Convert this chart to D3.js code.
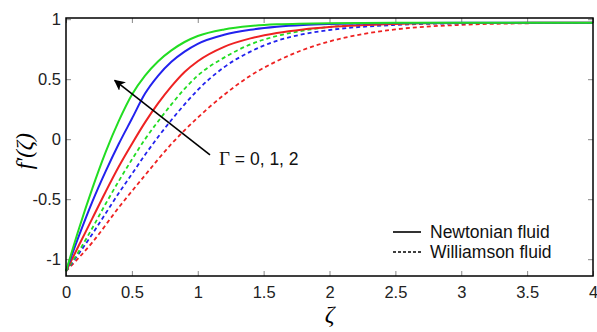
<!DOCTYPE html>
<html>
<head>
<meta charset="utf-8">
<script src="https://cdn.jsdelivr.net/npm/d3@7"></script>
<style>
  body { margin: 0; background: #fff; }
  svg { display: block; }
  .tick text { font-family: "Liberation Sans", Arial, sans-serif; font-size: 16.5px; fill: #222; }
</style>
</head>
<body>
<svg id="chart" width="597" height="332"></svg>
<script>
// ---- Data ----
const xTicks = [0, 0.5, 1, 1.5, 2, 2.5, 3, 3.5, 4];
const xTickLabels = ["0", "0.5", "1", "1.5", "2", "2.5", "3", "3.5", "4"];
const yTicks = [-1, -0.5, 0, 0.5, 1];
const yTickLabels = ["-1", "-0.5", "0", "0.5", "1"];

const gammaValues = [0, 1, 2];
const seriesColors = ["#ee2222", "#2222ee", "#22dd22"];

// Newtonian fluid (solid), one row per Γ
const newtonianZeta = [
  [0, 0.1, 0.2, 0.3, 0.4, 0.5, 0.6, 0.7, 0.8, 0.9, 1.0, 1.2, 1.4, 1.6, 1.8, 2.0, 2.5, 3, 4],
  [0, 0.1, 0.2, 0.3, 0.4, 0.5, 0.6, 0.7, 0.8, 0.9, 1.0, 1.2, 1.4, 1.6, 1.8, 2.0, 2.5, 3, 4],
  [0, 0.1, 0.2, 0.3, 0.4, 0.5, 0.6, 0.7, 0.8, 0.9, 1.0, 1.2, 1.4, 1.6, 2.0, 2.5, 4]
];
const newtonianF = [
  [-1.1, -0.88, -0.66, -0.44, -0.23, -0.04, 0.14, 0.3, 0.44, 0.56, 0.65, 0.77, 0.84, 0.885, 0.915, 0.935, 0.96, 0.968, 0.97],
  [-1.1, -0.8, -0.52, -0.27, -0.04, 0.17, 0.38, 0.53, 0.645, 0.73, 0.795, 0.87, 0.912, 0.937, 0.952, 0.96, 0.968, 0.97, 0.97],
  [-1.1, -0.74, -0.41, -0.11, 0.15, 0.37, 0.53, 0.65, 0.74, 0.81, 0.86, 0.915, 0.943, 0.957, 0.967, 0.97, 0.97]
];

// Williamson fluid (dashed), one row per Γ
const williamsonZeta = [
  [0, 0.2, 0.4, 0.6, 0.8, 1.0, 1.2, 1.4, 1.6, 1.8, 2.0, 2.25, 2.5, 3, 3.5, 4],
  [0, 0.1, 0.2, 0.3, 0.4, 0.5, 0.6, 0.7, 0.8, 0.9, 1.0, 1.2, 1.4, 1.6, 1.8, 2.0, 2.5, 3, 3.5, 4],
  [0, 0.1, 0.2, 0.3, 0.4, 0.5, 0.6, 0.7, 0.8, 0.9, 1.0, 1.2, 1.4, 1.6, 1.8, 2.0, 2.5, 3, 4]
];
const williamsonF = [
  [-1.1, -0.86, -0.57, -0.3, -0.04, 0.18, 0.37, 0.53, 0.65, 0.745, 0.815, 0.875, 0.915, 0.953, 0.966, 0.97],
  [-1.1, -0.95, -0.79, -0.62, -0.45, -0.29, -0.13, 0.02, 0.16, 0.29, 0.41, 0.6, 0.73, 0.82, 0.875, 0.91, 0.952, 0.966, 0.97, 0.97],
  [-1.1, -0.93, -0.74, -0.54, -0.35, -0.17, 0.0, 0.15, 0.29, 0.42, 0.53, 0.68, 0.79, 0.86, 0.905, 0.935, 0.96, 0.968, 0.97]
];

const legendLabels = ["Newtonian fluid", "Williamson fluid"];
const annotationText = ["Γ", " = 0, 1, 2"];
const xLabel = "ζ";
const yLabel = "f′(ζ)";

// ---- Layout ----
const svg = d3.select("#chart");
const mLeft = 66, mRight = 593, mTop = 18, mBottom = 276;
const x = d3.scaleLinear().domain([0, 4]).range([mLeft, mRight]);
const y = d3.scaleLinear().domain([-1.14, 1.01]).range([mBottom, mTop]);

const tickStroke = "#888";

// axes with inward ticks on all four sides
const gx = svg.append("g").attr("transform", `translate(0,${mBottom})`)
  .call(d3.axisBottom(x).tickValues(xTicks).tickFormat((d, i) => xTickLabels[i]).tickSize(-5).tickPadding(7));
const gxTop = svg.append("g").attr("transform", `translate(0,${mTop})`)
  .call(d3.axisTop(x).tickValues(xTicks).tickFormat("").tickSize(-5));
const gy = svg.append("g").attr("transform", `translate(${mLeft},0)`)
  .call(d3.axisLeft(y).tickValues(yTicks).tickFormat((d, i) => yTickLabels[i]).tickSize(-5).tickPadding(5));
const gyR = svg.append("g").attr("transform", `translate(${mRight},0)`)
  .call(d3.axisRight(y).tickValues(yTicks).tickFormat("").tickSize(-5));

[gx, gxTop, gy, gyR].forEach(g => {
  g.select(".domain").remove();
  g.selectAll(".tick line").attr("stroke", tickStroke).attr("stroke-width", 1);
});
gx.selectAll(".tick text").attr("dy", "0.9em");

// curves
const line = d3.line().x(d => x(d[0])).y(d => y(d[1])).curve(d3.curveMonotoneX);
const plot = svg.append("g");

gammaValues.forEach((g, i) => {
  const pts = williamsonZeta[i].map((z, k) => [z, williamsonF[i][k]]);
  plot.append("path").datum(pts).attr("d", line)
    .attr("fill", "none").attr("stroke", seriesColors[i]).attr("stroke-width", 1.8)
    .attr("stroke-dasharray", "4,3");
});
gammaValues.forEach((g, i) => {
  const pts = newtonianZeta[i].map((z, k) => [z, newtonianF[i][k]]);
  plot.append("path").datum(pts).attr("d", line)
    .attr("fill", "none").attr("stroke", seriesColors[i]).attr("stroke-width", 2);
});

// frame
svg.append("rect").attr("x", mLeft).attr("y", mTop)
  .attr("width", mRight - mLeft).attr("height", mBottom - mTop)
  .attr("fill", "none").attr("stroke", "#000").attr("stroke-width", 1.5);

// arrow annotation (data coordinates)
const arrowFrom = [1.093, -0.13];
const arrowTo = [0.37, 0.49];
svg.append("defs").append("marker")
  .attr("id", "ah").attr("viewBox", "0 0 10 10").attr("refX", 9).attr("refY", 5)
  .attr("markerWidth", 11).attr("markerHeight", 11).attr("markerUnits", "userSpaceOnUse")
  .attr("orient", "auto")
  .append("path").attr("d", "M0,0 L10,5 L0,10 L2.5,5 Z").attr("fill", "#000");
svg.append("line")
  .attr("x1", x(arrowFrom[0])).attr("y1", y(arrowFrom[1]))
  .attr("x2", x(arrowTo[0])).attr("y2", y(arrowTo[1]))
  .attr("stroke", "#000").attr("stroke-width", 1.6).attr("marker-end", "url(#ah)");

const ann = svg.append("text").attr("x", x(arrowFrom[0]) + 9).attr("y", y(arrowFrom[1]) + 10)
  .attr("font-size", 17.5).attr("fill", "#111");
ann.append("tspan").attr("font-family", "'Liberation Serif', 'Times New Roman', serif").attr("font-size", 19).text(annotationText[0]);
ann.append("tspan").attr("font-family", "'Liberation Sans', Arial, sans-serif").text(annotationText[1]);

// legend
const legX = 393, legY = 232;
legendLabels.forEach((lab, i) => {
  const yy = legY + i * 20;
  svg.append("line").attr("x1", legX).attr("x2", legX + 28).attr("y1", yy).attr("y2", yy)
    .attr("stroke", "#000").attr("stroke-width", i === 0 ? 1.6 : 1.4)
    .attr("stroke-dasharray", i === 0 ? null : "3,2");
  svg.append("text").attr("x", legX + 37).attr("y", yy).attr("dy", "0.35em")
    .attr("font-family", "'Liberation Sans', Arial, sans-serif").attr("font-size", 17.5).attr("fill", "#111")
    .text(lab);
});

// axis labels
svg.append("text").attr("x", (mLeft + mRight) / 2).attr("y", 322).attr("text-anchor", "middle")
  .attr("font-family", "'Liberation Serif', 'Times New Roman', serif").attr("font-style", "italic")
  .attr("font-size", 24).text(xLabel);
svg.append("text").attr("transform", `translate(32,${y(-0.1)}) rotate(-90)`).attr("text-anchor", "middle")
  .attr("font-family", "'Liberation Serif', 'Times New Roman', serif").attr("font-style", "italic")
  .attr("font-size", 23).text(yLabel);
</script>
</body>
</html>
